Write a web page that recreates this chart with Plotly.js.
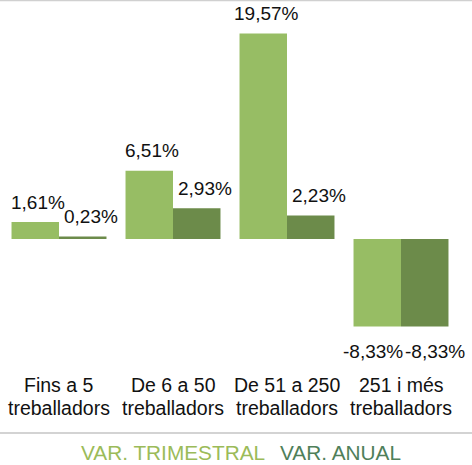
<!DOCTYPE html>
<html>
<head>
<meta charset="utf-8">
<script src="https://cdn.plot.ly/plotly-3.0.1.min.js"></script>
<style>html,body{margin:0;padding:0;background:#fff;}#chart{width:472px;height:465px;}</style>
</head>
<body>
<div id="chart"></div>
<script>
const categories = ["Fins a 5<br>treballadors", "De 6 a 50<br>treballadors", "De 51 a 250<br>treballadors", "251 i més<br>treballadors"];
const varTrimestral = [1.61, 6.51, 19.57, -8.33];
const varAnual = [0.23, 2.93, 2.23, -8.33];
const seriesNames = ["VAR. TRIMESTRAL", "VAR. ANUAL"];

const fmt = v => v.toFixed(2).replace(".", ",") + "%";
const FONT = "'Liberation Sans', Arial, sans-serif";
const BARGAP = 0.167;
const barW = (1 - BARGAP) / 2;

const traces = [
  {type: "bar", name: seriesNames[0], x: categories, y: varTrimestral,
   marker: {color: "#97BD64"}, hoverinfo: "none"},
  {type: "bar", name: seriesNames[1], x: categories, y: varAnual,
   marker: {color: "#6C8B4A"}, hoverinfo: "none"}
];

const annotations = [];
// data labels
[varTrimestral, varAnual].forEach((vals, s) => {
  vals.forEach((v, i) => {
    const off = (s === 0 ? -1 : 1) * barW / 2;
    const xs = s === 0 ? (v < 0 ? -4 : 3) : (v < 0 ? 10 : 8);
    annotations.push({
      text: fmt(v), x: i + off, y: v, xref: "x", yref: "y",
      xanchor: "center", yanchor: "middle", yshift: v < 0 ? -25 : 20, xshift: xs,
      showarrow: false, font: {family: FONT, size: 19, color: "#111"}
    });
  });
});
// category labels (two lines each)
categories.forEach((c, i) => {
  c.split("<br>").forEach((line, k) => {
    annotations.push({
      text: line, x: i, xref: "x", y: 0, yref: "paper",
      xanchor: "center", yanchor: "middle", yshift: -15 - 23 * k,
      showarrow: false, font: {family: FONT, size: 19.5, color: "#111"}
    });
  });
});
// legend texts
annotations.push(
  {text: seriesNames[0], xref: "paper", yref: "paper", x: 0.581, y: -0.237, xanchor: "right", yanchor: "middle",
   showarrow: false, font: {family: FONT, size: 20.8, color: "#9BBB59"}},
  {text: seriesNames[1], xref: "paper", yref: "paper", x: 0.605, y: -0.237, xanchor: "left", yanchor: "middle",
   showarrow: false, font: {family: FONT, size: 20.8, color: "#4F7F5A"}}
);

const layout = {
  width: 472, height: 465,
  margin: {l: 2, r: 14, t: 20, b: 95},
  paper_bgcolor: "#fff", plot_bgcolor: "#fff",
  barmode: "group", bargap: BARGAP, bargroupgap: 0,
  showlegend: false,
  font: {family: FONT, color: "#111"},
  xaxis: {type: "category", range: [-0.5, 3.5], showgrid: false, showline: false, zeroline: false, ticks: "",
          showticklabels: false, fixedrange: true},
  yaxis: {range: [-12.476, 20.857], showgrid: false, showline: false, zeroline: false,
          showticklabels: false, ticks: "", fixedrange: true},
  annotations: annotations,
  shapes: [
    {type: "line", xref: "paper", yref: "paper", x0: -0.01, x1: 1.04, y0: -0.18, y1: -0.18,
     line: {color: "#C4C4C4", width: 1.5}},
    {type: "line", xref: "paper", yref: "paper", x0: -0.01, x1: 1.04, y0: 1.0557, y1: 1.0557,
     line: {color: "#D0D0D0", width: 1.5}}
  ]
};

Plotly.newPlot("chart", traces, layout, {displayModeBar: false, staticPlot: true});
</script>
</body>
</html>
